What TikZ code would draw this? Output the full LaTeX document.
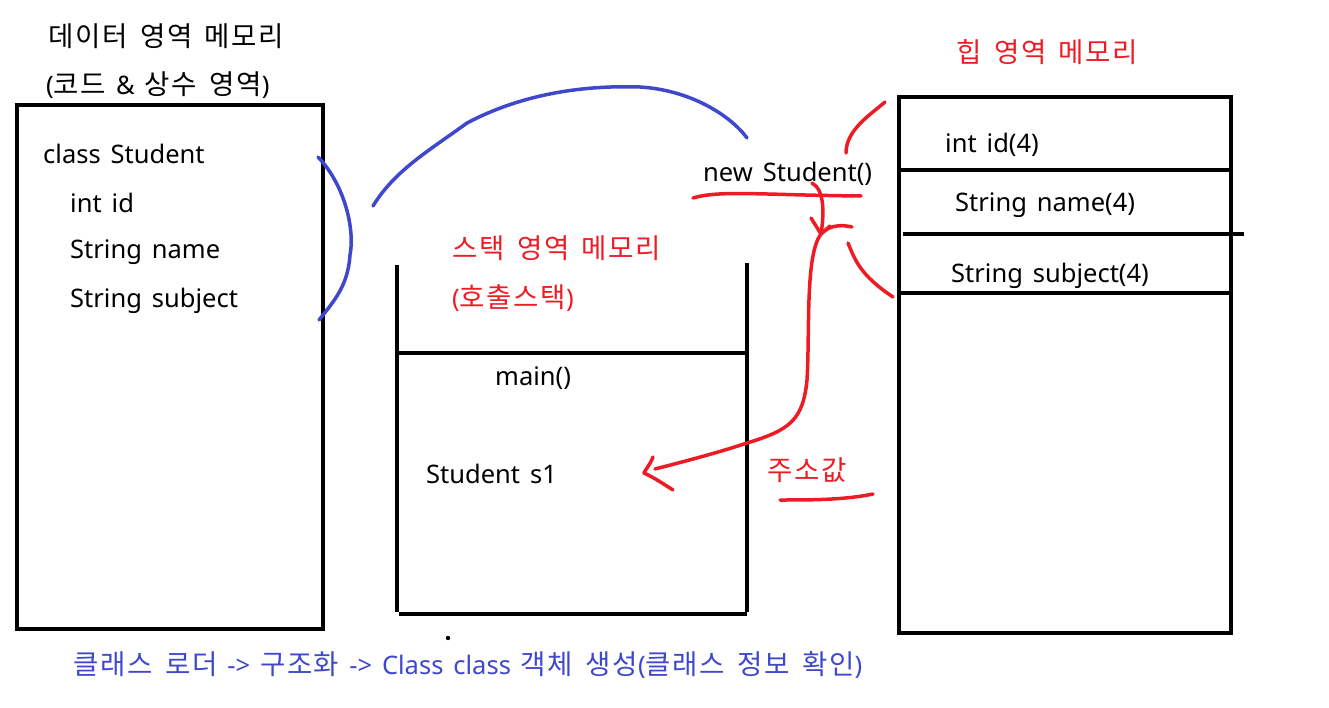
\documentclass[tikz,border=0pt]{standalone}
\usepackage{fontspec}
\setmainfont[WordSpace=1.5]{Noto Sans}
\newfontfamily\kr[WordSpace=1.6,LetterSpace=6,Scale=1.08]{Noto Sans CJK KR}
\definecolor{pblue}{RGB}{63,72,204}
\definecolor{pred}{RGB}{237,28,36}
\begin{document}
\begin{tikzpicture}[x=1pt,y=-1pt,
  lbl/.style={anchor=west,inner sep=0pt,font=\fontsize{25.5}{28}\selectfont},
  box/.style={line width=4pt},
  bpen/.style={pblue,line width=3.5pt,line cap=round,line join=round},
  rpen/.style={pred,line width=3.5pt,line cap=round,line join=round}]
\useasboundingbox (0,0) rectangle (1329,708);
% data area
\node[lbl] (t1) at (48,36) {\kr 데이터 영역 메모리};
\node[lbl] (t2) at (46,85) {({\kr 코드} \& {\kr 상수 영역})};
\draw[box] (17,105) rectangle (323,629);
\node[lbl] (c1) at (43,154) {class Student};
\node[lbl] (c2) at (70,203) {int id};
\node[lbl] (c3) at (70,252) {String name};
\node[lbl] (c4) at (70,301) {String subject};
% stack
\node[lbl,text=pred] (s1) at (452,248) {\kr 스택 영역 메모리};
\node[lbl,text=pred] (s2) at (452,298) {({\kr 호출스택})};
\draw[line width=3.5pt] (397,265) -- (397,612);
\draw[line width=3.5pt] (747,263) -- (747,612);
\draw[line width=3.5pt] (399,614) -- (747,614);
\draw[line width=3.5pt] (397,353) -- (747,353);
\node[lbl] (m1) at (495,378) {main()};
\node[lbl] (m2) at (426,474) {Student s1};
\fill (448,638) circle (2.2pt);
% heap
\node[lbl,text=pred] (h0) at (956,52) {\kr 힙 영역 메모리};
\draw[box] (899,97) rectangle (1231,633);
\draw[line width=3.5pt] (899,170) -- (1231,170);
\draw[line width=3.5pt] (903,234) -- (1244,234);
\draw[line width=3.5pt] (899,293) -- (1231,293);
\node[lbl] (h1) at (945,145) {int id(4)};
\node[lbl] (h2) at (955,205) {String name(4)};
\node[lbl] (h3) at (951,276) {String subject(4)};
\node[lbl] (ns) at (703,174) {new Student()};
\node[lbl,text=pred] (addr) at (767,470) {\kr 주소값};
\node[lbl,text=pblue] (bot) at (73,665) {{\kr 클래스 로더} -> {\kr 구조화} -> Class class {\kr 객체 생성}({\kr 클래스 정보 확인})};
% blue strokes
\draw[bpen] (318,157) .. controls (345,185) and (355,230) .. (350,255) .. controls (348,285) and (335,300) .. (319,320);
\draw[bpen] (373,206) .. controls (395,170) and (430,150) .. (467,123) .. controls (520,95) and (580,85) .. (640,87) .. controls (690,90) and (730,115) .. (747,138);
% red strokes
\draw[rpen] (693,198) .. controls (720,190) and (760,195) .. (861,196);
\draw[rpen] (846,153) .. controls (846,130) and (870,115) .. (885,102);
\draw[rpen] (848,243) .. controls (855,260) and (860,275) .. (893,297);
\draw[rpen] (812,183) .. controls (825,190) and (824,215) .. (821,234);
\draw[rpen] (811,218) -- (821,234) -- (830,226);
\draw[rpen] (821,234) .. controls (828,226) and (840,224) .. (852,227);
\draw[rpen] (821,234) .. controls (805,255) and (810,330) .. (807,380) .. controls (803,420) and (790,430) .. (747,443) .. controls (720,452) and (690,460) .. (655,469);
\draw[rpen] (653,457) .. controls (650,465) and (645,470) .. (644,473) .. controls (655,478) and (665,485) .. (673,490);
\draw[rpen] (780,500) .. controls (810,500) and (845,500) .. (873,494);
\end{tikzpicture}
\end{document}
